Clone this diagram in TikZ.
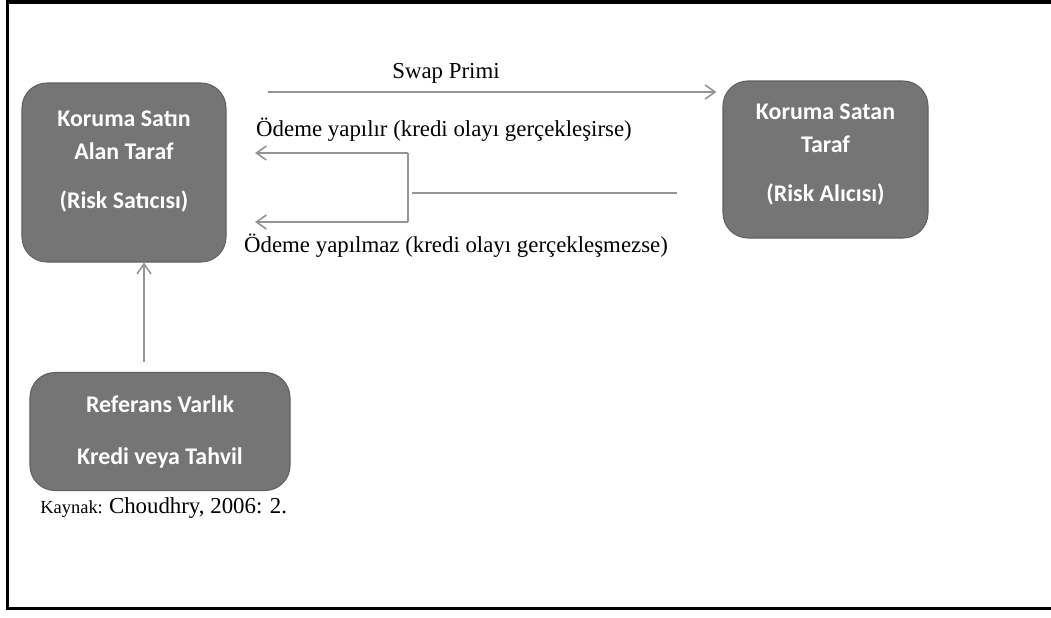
\documentclass[tikz,border=0pt]{standalone}
\usepackage{fontspec}
\setmainfont{Liberation Serif}
\newfontfamily\kutufont{Carlito}
\usetikzlibrary{arrows.meta}

\begin{document}
\begin{tikzpicture}[x=0.2mm,y=-0.2mm]
  \tikzset{kutu/.style={draw=black!62, fill=black!54, line width=0.6pt, rounded corners=5mm,
             text=white, align=center, inner sep=0pt,
             font=\kutufont\bfseries\fontsize{13.6}{18.8}\selectfont},
           ok/.style={draw=black!42, line width=0.9pt, -{Straight Barb[length=2mm,width=2.8mm]}},
           cizgi/.style={draw=black!42, line width=0.9pt},
           yazi/.style={inner sep=0pt, font=\fontsize{13}{15}\selectfont}}
  \useasboundingbox (0,0) rectangle (1051,617);

  % Cerceve
  \draw[line width=0.6mm] (1051,2) -- (7,2) -- (7,608) -- (1051,608);

  % Taraflar
  \node[kutu, minimum width=40.8mm, minimum height=35.8mm] (A) at (124,172.5)
    {Koruma Satın\\Alan Taraf\\[9pt](Risk Satıcısı)\rule[-5mm]{0pt}{0pt}};
  \node[kutu, minimum width=41mm, minimum height=31.4mm] (B) at (825.5,159.5)
    {Koruma Satan\\Taraf\\[9pt](Risk Alıcısı)\rule[-2.7mm]{0pt}{0pt}};
  \node[kutu, minimum width=52mm, minimum height=23.6mm] (R) at (160,431.5)
    {Referans Varlık\\[10.8pt]Kredi veya Tahvil};

  % Etiketler
  \node[yazi] (swap) at (446,73) {Swap Primi};
  \node[yazi] (odeme) at (444,130) {Ödeme yapılır (kredi olayı gerçekleşirse)};
  \node[yazi] (odemez) at (456,246) {Ödeme yapılmaz (kredi olayı gerçekleşmezse)};
  \node[inner sep=0pt, anchor=west] (kaynak) at (40,508)
    {\fontsize{10.5}{12}\selectfont Kaynak: \fontsize{13}{15}\selectfont Choudhry, 2006: 2.};

  % Baglanti noktalari
  \coordinate (s1) at (268,92);
  \coordinate (j1) at (408,153);
  \coordinate (j2) at (408,222);
  \coordinate (u1) at (255,153);
  \coordinate (u2) at (255,222);
  \coordinate (m1) at (412,193);
  \coordinate (m2) at (677,193);
  \coordinate (v) at (144,362);

  \draw[ok, shorten >=1.2mm] (s1) -- (B.west |- s1);
  \draw[ok] (j1) -- (u1);
  \draw[ok] (j2) -- (u2);
  \draw[cizgi] (j1) -- (j2);
  \draw[cizgi] (m1) -- (m2);
  \draw[ok] (v) -- (v |- A.south);
\end{tikzpicture}
\end{document}
